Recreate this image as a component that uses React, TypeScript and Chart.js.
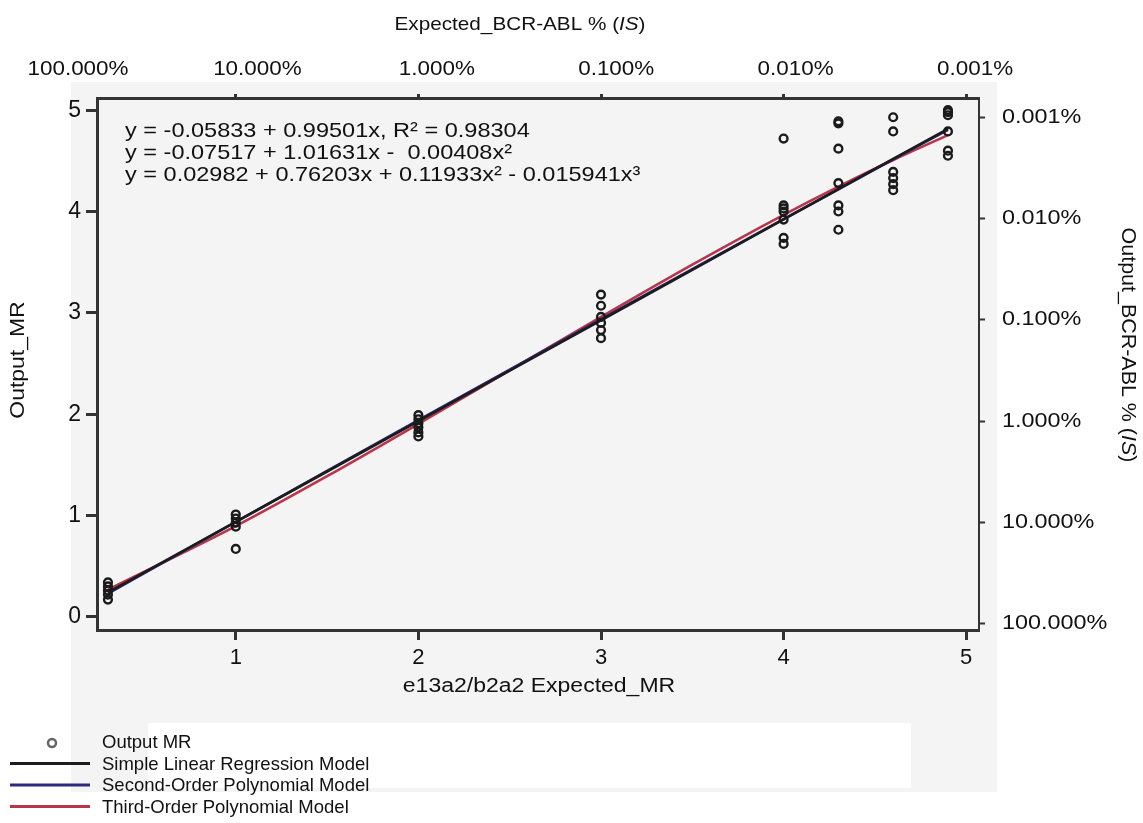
import React, { useEffect, useRef } from 'react';
import { Chart, registerables } from 'chart.js';

Chart.register(...registerables);

// ---------- data ----------
const groupX = [0.3, 1, 2, 3, 4, 4.3, 4.6, 4.9];
const obsAt03 = [0.34, 0.3, 0.26, 0.22, 0.17];
const obsAt1 = [1.01, 0.97, 0.93, 0.89, 0.67];
const obsAt2 = [1.99, 1.95, 1.91, 1.87, 1.82, 1.78];
const obsAt3 = [3.18, 3.07, 2.96, 2.9, 2.83, 2.75];
const obsAt4 = [4.72, 4.06, 4.03, 4.0, 3.92, 3.74, 3.68];
const obsAt43 = [4.89, 4.87, 4.62, 4.28, 4.06, 4.0, 3.82];
const obsAt46 = [4.93, 4.79, 4.39, 4.33, 4.27, 4.21];
const obsAt49 = [5.0, 4.98, 4.95, 4.79, 4.6, 4.55];
const observed = [obsAt03, obsAt1, obsAt2, obsAt3, obsAt4, obsAt43, obsAt46, obsAt49];

const fitX = [0.3, 1, 1.5, 2, 2.5, 3, 3.5, 4, 4.3, 4.6, 4.9];
const linearFit = [0.2402, 0.9367, 1.4342, 1.9317, 2.4292, 2.9267, 3.4242, 3.9217, 4.2202, 4.5187, 4.8162];
const secondFit = [0.2294, 0.9371, 1.4401, 1.9411, 2.4401, 2.937, 3.4319, 3.9248, 4.2195, 4.5135, 4.8068];
const thirdFit = [0.2687, 0.8952, 1.3876, 1.9037, 2.4316, 2.9594, 3.4752, 3.967, 4.2455, 4.5086, 4.7535];

const mrTicks = [0, 1, 2, 3, 4, 5];
const bottomTicks = [1, 2, 3, 4, 5];
const topDotTicks = [1, 2, 3, 4, 5];
const pctLabels = ['100.000%', '10.000%', '1.000%', '0.100%', '0.010%', '0.001%'];

const equations = [
  'y = -0.05833 + 0.99501x, R\u00B2 = 0.98304',
  'y = -0.07517 + 1.01631x -  0.00408x\u00B2',
  'y = 0.02982 + 0.76203x + 0.11933x\u00B2 - 0.015941x\u00B3',
];

const seriesLabels = ['Output MR', 'Simple Linear Regression Model', 'Second-Order Polynomial Model', 'Third-Order Polynomial Model'];
const seriesColors = ['#1a1a1a', '#1c1c1c', '#2c2a7e', '#b8364a'];

const X_MIN = 0.24;
const X_MAX = 5.07;
const Y_MIN = -0.13;
const Y_MAX = 5.12;

const SANS = "'Liberation Sans', Arial, Helvetica, sans-serif";
const TEXT = '#111111';
const FRAME = '#333333';

type Part = { t: string; italic?: boolean };
type TextOpts = { size: number; sx?: number; align?: 'left' | 'center' | 'right'; rotate?: number };

function drawText(ctx: CanvasRenderingContext2D, parts: Part[], x: number, y: number, o: TextOpts) {
  const sx = o.sx ?? 1;
  const align = o.align ?? 'center';
  ctx.save();
  ctx.translate(x, y);
  if (o.rotate) ctx.rotate(o.rotate);
  ctx.scale(sx, 1);
  const fonts = parts.map((p) => `${p.italic ? 'italic ' : ''}${o.size}px ${SANS}`);
  let total = 0;
  const widths = parts.map((p, i) => {
    ctx.font = fonts[i];
    const w = ctx.measureText(p.t).width;
    total += w;
    return w;
  });
  let cx = align === 'center' ? -total / 2 : align === 'right' ? -total : 0;
  ctx.textAlign = 'left';
  ctx.textBaseline = 'middle';
  ctx.fillStyle = TEXT;
  parts.forEach((p, i) => {
    ctx.font = fonts[i];
    ctx.fillText(p.t, cx, 0);
    cx += widths[i];
  });
  ctx.restore();
}

const backgroundPlugin = {
  id: 'bgPanel',
  beforeDraw(chart: any) {
    const { ctx, chartArea, width, height } = chart;
    ctx.save();
    ctx.fillStyle = '#ffffff';
    ctx.fillRect(0, 0, width, height);
    ctx.fillStyle = '#f4f4f4';
    const l = chartArea.left - 26;
    const t = chartArea.top - 16;
    const r = chartArea.right + 18;
    ctx.fillRect(l, t, r - l, height - 31 - t);
    ctx.fillStyle = '#ffffff';
    ctx.fillRect(148, height - 100, 763, 65);
    ctx.restore();
  },
};

const textPlugin = {
  id: 'texts',
  afterDraw(chart: any) {
    const { ctx, chartArea, height, width } = chart;
    const sc = chart.scales;
    ctx.save();
    // left tick labels
    mrTicks.forEach((v) => {
      drawText(ctx, [{ t: String(v) }], sc.y.left + 81, sc.y.getPixelForValue(v), { size: 23, align: 'right' });
    });
    // bottom tick labels
    bottomTicks.forEach((v) => {
      drawText(ctx, [{ t: String(v) }], sc.x.getPixelForValue(v), sc.x.top + 28, { size: 22 });
    });
    // top labels
    mrTicks.forEach((v, i) => {
      drawText(ctx, [{ t: pctLabels[i] }], sc.xTopLab.getPixelForValue(v), chartArea.top - 28, { size: 19.5, sx: 1.15 });
    });
    // right labels
    mrTicks.forEach((v, i) => {
      drawText(ctx, [{ t: pctLabels[i] }], sc.yRight.left + 23, sc.yRight.getPixelForValue(v), { size: 19.5, sx: 1.2, align: 'left' });
    });
    // equations
    equations.forEach((eq, i) => {
      drawText(ctx, [{ t: eq }], chartArea.left + 28, chartArea.top + 33 + i * 22, { size: 21, sx: 1.12, align: 'left' });
    });
    const midX = (chartArea.left + chartArea.right) / 2;
    const midY = (chartArea.top + chartArea.bottom) / 2;
    // titles
    drawText(ctx, [{ t: 'Expected_BCR-ABL % (' }, { t: 'IS', italic: true }, { t: ')' }], midX - 18, 25, { size: 18.5, sx: 1.12 });
    drawText(ctx, [{ t: 'e13a2/b2a2 Expected_MR' }], midX + 1, chartArea.bottom + 56, { size: 20, sx: 1.15 });
    drawText(ctx, [{ t: 'Output_MR' }], 18, midY - 4, { size: 20.5, sx: 1.12, rotate: -Math.PI / 2 });
    drawText(ctx, [{ t: 'Output_BCR-ABL % (' }, { t: 'IS', italic: true }, { t: ')' }], width - 16, midY - 19, {
      size: 19.5,
      sx: 1.1,
      rotate: Math.PI / 2,
    });
    // legend
    const rowY0 = height - 80;
    const rowStep = 21.5;
    chart.data.datasets.forEach((ds: any, i: number) => {
      const y = rowY0 + i * rowStep;
      if (i === 0) {
        ctx.beginPath();
        ctx.arc(52, y, 4, 0, Math.PI * 2);
        ctx.lineWidth = 2.5;
        ctx.strokeStyle = '#666';
        ctx.stroke();
      } else {
        ctx.beginPath();
        ctx.moveTo(10, y - 1);
        ctx.lineTo(90, y - 1);
        ctx.lineWidth = 3;
        ctx.strokeStyle = ds.borderColor;
        ctx.stroke();
      }
      drawText(ctx, [{ t: ds.label }], 102, y, { size: 18.5, align: 'left' });
    });
    ctx.restore();
  },
};

function setTicks(values: number[]) {
  return (scale: any) => {
    scale.ticks = values.map((v) => ({ value: v }));
  };
}

const hiddenTicks = { display: false };

export default function App() {
  const canvasRef = useRef<HTMLCanvasElement | null>(null);

  useEffect(() => {
    if (!canvasRef.current) return;
    const points: { x: number; y: number }[] = [];
    groupX.forEach((gx, gi) => {
      observed[gi].forEach((v) => points.push({ x: gx, y: v }));
    });
    const toXY = (ys: number[]) => fitX.map((x, i) => ({ x, y: ys[i] }));

    const chart = new Chart(canvasRef.current, {
      type: 'scatter',
      data: {
        datasets: [
          {
            label: seriesLabels[0],
            data: points,
            pointRadius: 3.9,
            pointBorderWidth: 2.4,
            borderColor: seriesColors[0],
            backgroundColor: 'rgba(0,0,0,0)',
            pointBackgroundColor: 'rgba(0,0,0,0)',
            pointBorderColor: seriesColors[0],
          },
          {
            label: seriesLabels[1],
            data: toXY(linearFit),
            showLine: true,
            pointRadius: 0,
            borderWidth: 2.6,
            borderColor: seriesColors[1],
          },
          {
            label: seriesLabels[2],
            data: toXY(secondFit),
            showLine: true,
            pointRadius: 0,
            borderWidth: 2.6,
            borderColor: seriesColors[2],
            cubicInterpolationMode: 'monotone',
          },
          {
            label: seriesLabels[3],
            data: toXY(thirdFit),
            showLine: true,
            pointRadius: 0,
            borderWidth: 2.6,
            borderColor: seriesColors[3],
            cubicInterpolationMode: 'monotone',
          },
        ] as any,
      },
      options: {
        animation: false,
        responsive: false,
        events: [],
        layout: { padding: { left: 0, right: 0, top: 0, bottom: 118 } },
        plugins: { legend: { display: false }, tooltip: { enabled: false } },
        scales: {
          x: {
            type: 'linear',
            position: 'bottom',
            min: X_MIN,
            max: X_MAX,
            afterBuildTicks: setTicks(bottomTicks),
            afterFit: (s: any) => {
              s.height = 75;
            },
            ticks: hiddenTicks,
            grid: { drawOnChartArea: false, drawTicks: true, tickLength: 10, tickWidth: 3, tickColor: FRAME },
            border: { display: true, color: FRAME, width: 3 },
          },
          xTop: {
            type: 'linear',
            position: 'top',
            min: X_MIN,
            max: X_MAX,
            afterBuildTicks: setTicks(topDotTicks),
            afterFit: (s: any) => {
              s.height = 98;
            },
            ticks: hiddenTicks,
            grid: { drawOnChartArea: false, drawTicks: true, tickLength: 4, tickWidth: 3, tickColor: FRAME },
            border: { display: true, color: FRAME, width: 3 },
          },
          xTopLab: {
            type: 'linear',
            position: 'top',
            min: 0.106,
            max: 5.022,
            afterBuildTicks: setTicks(mrTicks),
            afterFit: (s: any) => {
              s.height = 0;
            },
            ticks: hiddenTicks,
            grid: { display: false, drawTicks: false },
            border: { display: false },
          },
          y: {
            type: 'linear',
            position: 'left',
            min: Y_MIN,
            max: Y_MAX,
            afterBuildTicks: setTicks(mrTicks),
            afterFit: (s: any) => {
              s.width = 97;
            },
            ticks: hiddenTicks,
            grid: { drawOnChartArea: false, drawTicks: true, tickLength: 11, tickWidth: 3, tickColor: FRAME },
            border: { display: true, color: FRAME, width: 3 },
          },
          yRight: {
            type: 'linear',
            position: 'right',
            min: -0.06,
            max: 5.19,
            afterBuildTicks: setTicks(mrTicks),
            afterFit: (s: any) => {
              s.width = 164;
            },
            ticks: hiddenTicks,
            grid: { drawOnChartArea: false, drawTicks: true, tickLength: 6, tickWidth: 2, tickColor: FRAME },
            border: { display: true, color: FRAME, width: 2 },
          },
        },
      } as any,
      plugins: [backgroundPlugin, textPlugin],
    });
    return () => chart.destroy();
  }, []);

  return (
    <div style={{ position: 'fixed', left: 0, top: 0, width: 1143, height: 823, background: '#fff' }}>
      <canvas ref={canvasRef} width={1143} height={823} style={{ display: 'block' }} />
    </div>
  );
}
